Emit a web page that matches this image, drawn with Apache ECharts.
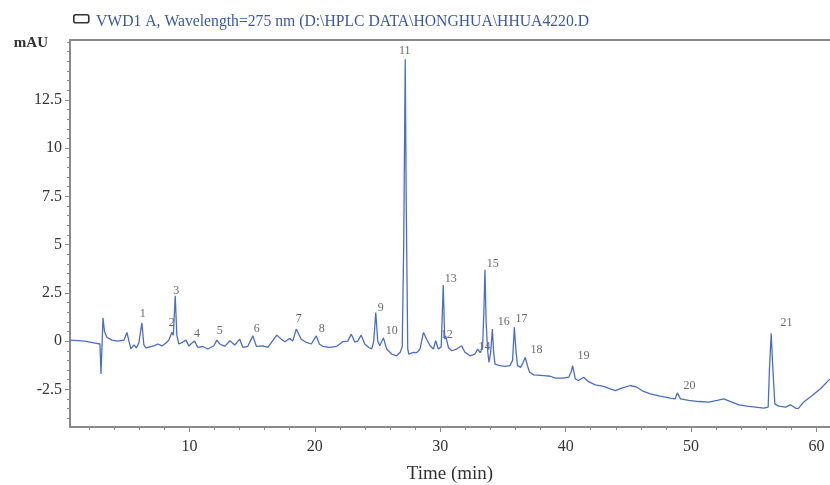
<!DOCTYPE html>
<html>
<head>
<meta charset="utf-8">
<script src="https://cdn.jsdelivr.net/npm/echarts@6/dist/echarts.min.js"></script>
<style>
html,body{margin:0;padding:0;background:#fff;}
#chart{width:830px;height:485px;}
</style>
</head>
<body>
<div id="chart"></div>
<script>
// ---- data ----
const titleText = 'VWD1 A, Wavelength=275 nm (D:\\HPLC DATA\\HONGHUA\\HHUA4220.D';
const yName = 'mAU';
const xName = 'Time (min)';
const xTickLabels = [10, 20, 30, 40, 50, 60];
const yTickLabels = [-2.5, 0, 2.5, 5, 7.5, 10, 12.5];
const timeMin = [0.48, 1.67, 2.47, 2.87, 2.95, 3.03, 3.11, 3.23, 3.42, 3.82, 4.30, 4.78, 5.02, 5.18, 5.34, 5.58, 5.77, 5.97, 6.21, 6.37,
  6.53, 6.85, 7.17, 7.49, 7.81, 8.13, 8.36, 8.60, 8.72, 8.87, 9.00, 9.16, 9.48, 9.72, 9.96, 10.20, 10.41, 10.68, 11.07, 11.47,
  11.95, 12.19, 12.43, 12.83, 13.23, 13.62, 14.02, 14.26, 14.66, 15.06, 15.34, 15.85, 16.25, 16.65, 16.97, 17.33, 17.61, 18.01, 18.24, 18.52,
  18.92, 19.32, 19.72, 20.12, 20.36, 20.64, 21.19, 21.75, 22.23, 22.63, 22.91, 23.19, 23.42, 23.70, 23.98, 24.30, 24.54, 24.70, 24.86, 25.02,
  25.18, 25.47, 25.73, 26.13, 26.53, 26.81, 26.97, 27.09, 27.21, 27.29, 27.41, 27.49, 27.86, 28.13, 28.39, 28.66, 28.92, 29.19, 29.46, 29.64,
  29.85, 30.08, 30.24, 30.36, 30.44, 30.65, 30.91, 31.31, 31.71, 31.97, 32.37, 32.77, 32.99, 33.19, 33.38, 33.48, 33.57, 33.66, 33.78, 33.89,
  34.02, 34.16, 34.26, 34.37, 34.76, 35.16, 35.56, 35.77, 35.91, 36.05, 36.17, 36.41, 36.61, 36.78, 36.97, 37.13, 37.45, 38.24, 38.78, 39.18,
  39.84, 40.24, 40.44, 40.56, 40.77, 41.03, 41.43, 41.83, 42.36, 43.03, 43.56, 43.96, 44.48, 45.15, 45.68, 46.21, 46.75, 47.54, 48.34, 48.74,
  48.90, 49.16, 49.82, 50.62, 51.42, 52.09, 52.61, 53.15, 53.81, 54.48, 55.14, 55.80, 56.15, 56.25, 56.39, 56.49, 56.68, 56.99, 57.53, 57.93,
  58.32, 58.54, 58.98, 59.66, 60.32, 61.08];
const absorbance = [0.05, 0.0, -0.1, -0.15, -1.7, -0.3, 1.2, 0.5, 0.2, 0.05, 0.0, 0.05, 0.45, 0.0, -0.4, -0.2, -0.35, -0.1, 0.95, -0.2,
  -0.35, -0.3, -0.25, -0.15, -0.25, -0.1, 0.05, 0.45, 0.3, 2.35, 0.3, -0.15, -0.05, 0.05, -0.25, -0.1, 0.0, -0.33, -0.28, -0.41,
  -0.24, 0.05, -0.15, -0.27, 0.02, -0.2, 0.1, -0.33, -0.27, 0.27, -0.27, -0.25, -0.33, 0.02, 0.31, 0.1, -0.03, 0.14, 0.0, 0.62,
  0.1, -0.07, -0.15, 0.27, -0.15, -0.27, -0.33, -0.27, -0.03, 0.0, 0.36, -0.05, 0.0, 0.31, -0.15, -0.33, -0.4, 0.0, 1.48, 0.0,
  -0.24, 0.17, -0.41, -0.67, -0.76, -0.58, -0.3, 5.0, 14.6, 7.0, -0.4, -0.67, -0.58, -0.6, -0.41, 0.45, 0.1, -0.24, -0.41, 0.02,
  -0.41, -0.3, 2.9, 0.1, 0.27, -0.33, -0.5, -0.41, -0.24, -0.58, -0.76, -0.67, -0.41, -0.6, -0.33, 1.5, 3.7, 1.0, -0.5, -1.1,
  -0.6, 0.62, -0.6, -1.19, -1.27, -1.31, -1.27, -1.0, 0.71, -0.6, -1.27, -1.36, -1.1, -0.85, -1.3, -1.61, -1.75, -1.79, -1.82, -1.92,
  -1.92, -1.87, -1.6, -1.27, -1.96, -2.04, -1.87, -2.1, -2.27, -2.34, -2.47, -2.56, -2.44, -2.3, -2.39, -2.61, -2.73, -2.85, -2.95, -2.99,
  -2.68, -2.99, -3.07, -3.13, -3.16, -3.07, -2.99, -3.13, -3.3, -3.37, -3.42, -3.47, -3.42, -1.5, 0.4, -1.0, -3.25, -3.37, -3.42, -3.3,
  -3.47, -3.5, -3.16, -2.82, -2.47, -1.96];
const peakNames = ['1','2','3','4','5','6','7','8','9','10','11','12','13','14','15','16','17','18','19','20','21'];
const peakLabelTime = [6.29, 8.60, 8.96, 10.60, 12.43, 15.38, 18.72, 20.56, 25.26, 26.13, 27.17, 30.52, 30.83, 33.54, 34.18, 35.06, 36.49, 37.68, 41.43, 49.88, 57.61];
const peakLabelValue = [1.39, 0.96, 2.58, 0.36, 0.52, 0.62, 1.13, 0.62, 1.70, 0.52, 15.05, 0.31, 3.25, -0.31, 4.02, 0.98, 1.13, -0.46, -0.77, -2.32, 0.93];

// ---- build ----
const X_MIN = 0.48, X_MAX = 61.08, Y_MIN = -4.45, Y_MAX = 15.6;
const minorX = []; for (let t = 2; t <= 60; t += 2) minorX.push(t);
const minorY = []; for (let v = -4; v <= 15.5; v += 0.5) minorY.push(Math.round(v * 10) / 10);
const line = timeMin.map((t, i) => [t, absorbance[i]]);
const labels = peakNames.map((n, i) => [peakLabelTime[i], peakLabelValue[i], n]);
const serif = 'Liberation Serif';
const axisCol = '#8a8a8a';

const chart = echarts.init(document.getElementById('chart'), null, {renderer: 'canvas'});
chart.setOption({
  animation: false,
  backgroundColor: '#ffffff',
  title: {
    text: titleText, left: 91, top: 9,
    textStyle: {fontFamily: serif, fontSize: 15.7, fontWeight: 'normal', color: '#3c58a8'}
  },
  graphic: [{
    type: 'rect', left: 73, top: 14, shape: {width: 15, height: 8, r: 2},
    style: {fill: '#fff', stroke: '#333', lineWidth: 1.6}
  }],
  grid: {left: 70, right: 0, top: 40, bottom: 58, containLabel: false, outerBoundsMode: 'none'},
  xAxis: [{
    type: 'value', min: X_MIN, max: X_MAX, position: 'bottom',
    name: xName, nameLocation: 'middle', nameGap: 38,
    nameTextStyle: {fontFamily: serif, fontSize: 19, color: '#333'},
    axisLine: {show: true, onZero: false, lineStyle: {color: axisCol, width: 2}},
    axisTick: {show: true, customValues: xTickLabels, length: 5, lineStyle: {color: axisCol}},
    axisLabel: {customValues: xTickLabels, margin: 12, fontFamily: serif, fontSize: 16, color: '#333'},
    splitLine: {show: false}
  }, {
    type: 'value', min: X_MIN, max: X_MAX, position: 'bottom',
    axisLine: {show: false, onZero: false}, axisLabel: {show: false}, splitLine: {show: false},
    axisTick: {show: true, customValues: minorX, length: 3, lineStyle: {color: axisCol}}
  }, {
    type: 'value', min: X_MIN, max: X_MAX, position: 'top',
    axisLine: {show: true, onZero: false, lineStyle: {color: axisCol, width: 2}},
    axisTick: {show: false}, axisLabel: {show: false}, splitLine: {show: false}
  }],
  yAxis: [{
    type: 'value', min: Y_MIN, max: Y_MAX, position: 'left',
    name: yName, nameLocation: 'end', nameGap: -3,
    nameTextStyle: {fontFamily: serif, fontSize: 15, fontWeight: 'bold', color: '#333', align: 'right', verticalAlign: 'middle', padding: [0, 22, 0, 0]},
    axisLine: {show: true, onZero: false, lineStyle: {color: axisCol, width: 2}},
    axisTick: {show: true, customValues: yTickLabels, length: 5, lineStyle: {color: axisCol}},
    axisLabel: {customValues: yTickLabels, margin: 8, fontFamily: serif, fontSize: 16, color: '#333'},
    splitLine: {show: false}
  }, {
    type: 'value', min: Y_MIN, max: Y_MAX, position: 'left', offset: 0,
    axisLine: {show: false, onZero: false}, axisLabel: {show: false}, splitLine: {show: false},
    axisTick: {show: true, customValues: minorY, length: 3, lineStyle: {color: axisCol}}
  }],
  series: [{
    type: 'line', xAxisIndex: 0, yAxisIndex: 0, data: line,
    showSymbol: false, symbol: 'none', smooth: false,
    lineStyle: {color: '#4b6ec4', width: 1.3}
  }, {
    type: 'scatter', xAxisIndex: 0, yAxisIndex: 0, data: labels,
    symbolSize: 1, itemStyle: {color: 'rgba(0,0,0,0)'},
    label: {show: true, position: 'inside', formatter: p => p.data[2],
      fontFamily: serif, fontSize: 12, color: '#444'}
  }]
});
</script>
</body>
</html>
